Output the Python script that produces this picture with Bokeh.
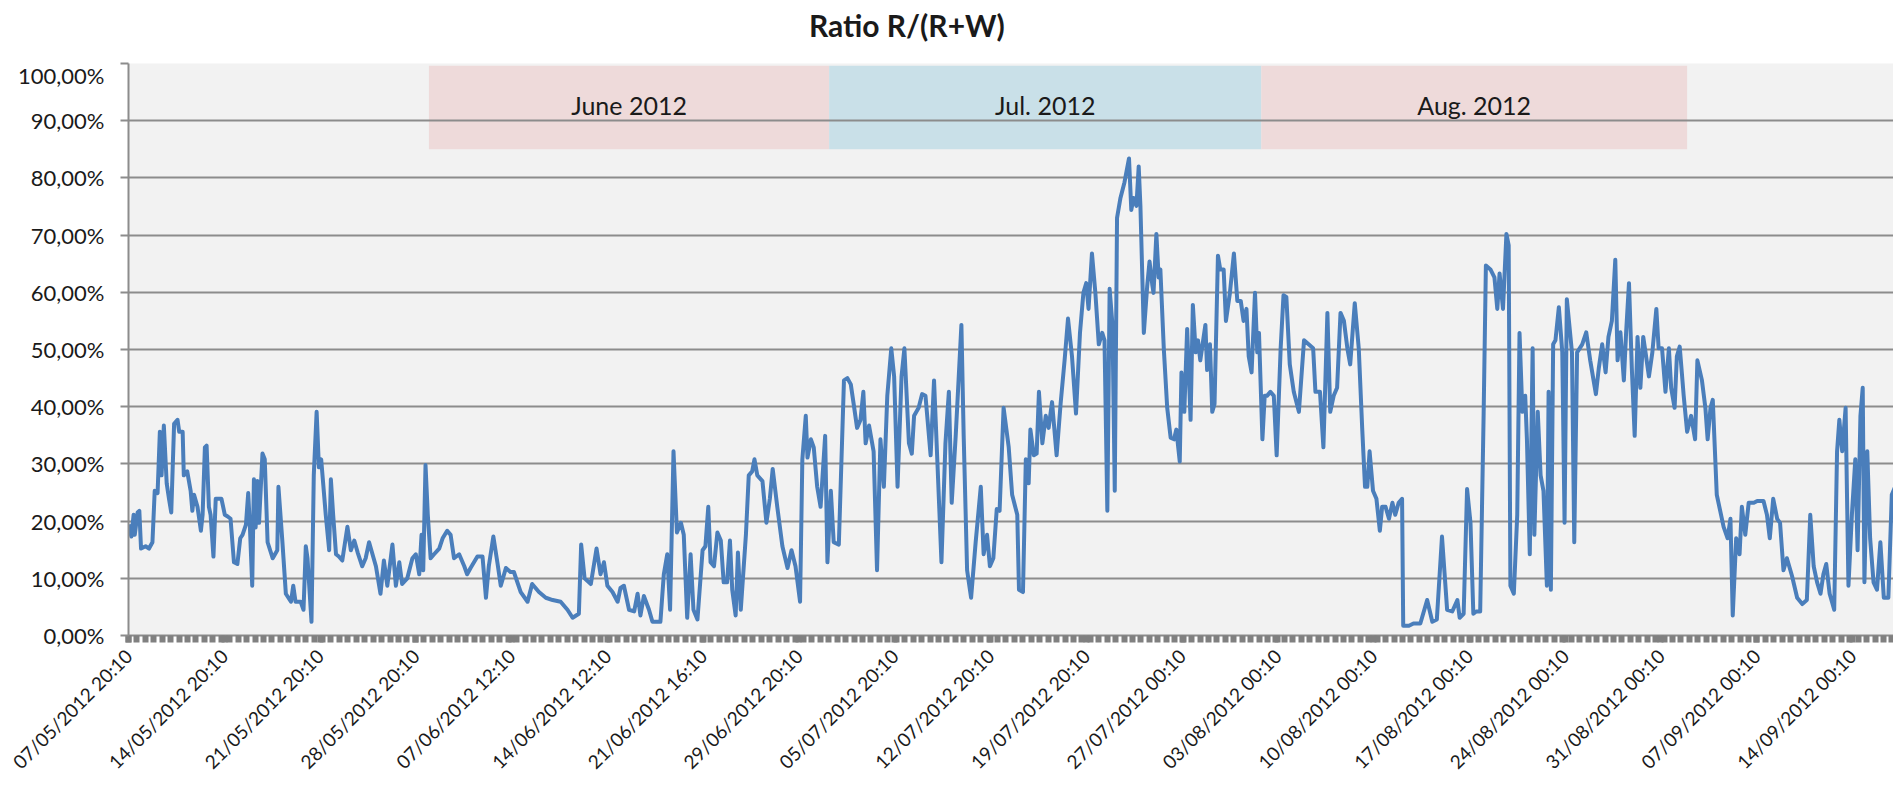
import math
import numpy as np
from bokeh.plotting import figure
from bokeh.layouts import column
from bokeh.models import FixedTicker
from bokeh.core.properties import value
from bokeh.embed import file_html
from bokeh.resources import INLINE

# ---------------- data ----------------
# x = sample (hour) index on the category axis, y = ratio R/(R+W) in %
hours_may = [
    0, 5, 9, 11, 16, 19, 22, 30, 36, 42,
    46, 51, 55, 58, 62, 67, 71, 75, 80, 86,
    89, 95, 97, 103, 109, 112, 115, 121, 127, 130,
    134, 137, 141, 144, 149, 153, 156, 163, 169, 174,
    179, 185, 191, 196, 200, 206, 210, 213, 217, 220,
    223, 226, 229, 235, 239, 244, 253, 261, 263, 270,
    276, 285, 289, 293, 302, 307, 311, 314, 321, 325,
    330, 334, 338, 346, 352, 355, 359, 364, 369, 375,
    384, 390, 396, 402, 410, 416, 422, 428, 434, 442,
    448, 454, 463, 469, 475, 480, 489, 498, 504, 510,
    514, 517, 521, 525, 530, 536, 545, 551, 559, 565,
    571, 580, 589, 594, 600, 612, 621, 627, 632, 640,
    647, 653]
ratio_may = [
    19.4, 17.3, 21.1, 17.6, 21.5, 21.8, 15.2, 15.6, 15.2, 16.3,
    25.3, 24.9, 35.6, 28.0, 36.7, 26.6, 23.9, 21.5, 37.0, 37.7,
    35.6, 35.6, 28.0, 28.7, 25.3, 21.8, 24.6, 22.5, 18.3, 21.1,
    32.9, 33.2, 22.5, 21.1, 13.8, 23.9, 23.9, 23.9, 21.1, 20.8,
    20.4, 12.8, 12.5, 17.0, 17.6, 19.4, 24.9, 18.9, 8.7, 27.3,
    18.9, 27.0, 19.7, 31.8, 30.8, 16.3, 13.5, 14.9, 26.0, 16.3,
    7.3, 5.9, 8.7, 5.9, 5.9, 4.5, 15.6, 13.5, 2.4, 28.0,
    39.1, 29.4, 30.8, 21.1, 14.9, 27.3, 21.1, 14.2, 13.8, 13.1,
    19.0, 14.9, 16.6, 14.5, 12.1, 13.5, 16.3, 14.2, 12.1, 7.3,
    13.1, 8.7, 15.9, 8.7, 12.8, 9.0, 10.0, 13.5, 14.2, 10.7,
    17.6, 11.4, 29.8, 21.1, 13.5, 14.2, 15.2, 17.0, 18.3, 17.6,
    13.5, 14.2, 12.1, 10.7, 11.8, 13.8, 13.8, 6.6, 12.1, 17.3,
    12.8, 8.7]

hours_jun = [
    662, 670, 676, 688, 700, 708, 720, 732, 744, 758,
    770, 779, 790, 794, 800, 811, 821, 828, 834, 840,
    849, 858, 863, 869, 878, 887, 893, 898, 904, 913,
    919, 933, 939, 945, 950, 956, 962, 969, 974, 980,
    986, 991, 998, 1007, 1012, 1017, 1021, 1027, 1033, 1039,
    1044, 1050, 1055, 1059, 1065, 1069, 1074, 1083, 1088, 1094,
    1098, 1103, 1112, 1119, 1125, 1130, 1138, 1147, 1156, 1163,
    1170, 1178, 1182, 1188, 1191, 1197, 1202, 1208, 1214, 1222,
    1226, 1232, 1237, 1246, 1255, 1261, 1267, 1272, 1278, 1284,
    1289, 1293, 1299, 1307, 1313, 1319, 1325, 1331, 1338, 1343,
    1349, 1356, 1361, 1369, 1374, 1378, 1386, 1392, 1398, 1407,
    1413, 1419, 1426, 1433, 1439, 1444, 1451, 1461, 1465, 1471,
    1478, 1486, 1495]
ratio_jun = [
    11.8, 11.1, 11.1, 7.6, 5.9, 9.0, 7.6, 6.6, 6.2, 5.9,
    4.5, 3.1, 3.8, 15.9, 10.0, 9.0, 15.2, 10.7, 12.8, 8.7,
    7.6, 5.9, 8.3, 8.7, 4.5, 4.2, 7.3, 3.5, 6.9, 4.5,
    2.4, 2.4, 10.7, 14.2, 4.5, 32.2, 18.0, 19.7, 17.6, 3.1,
    14.2, 4.5, 2.8, 14.9, 15.6, 22.5, 12.8, 12.1, 18.0, 16.6,
    9.3, 9.3, 16.6, 8.0, 3.5, 14.5, 4.5, 17.6, 28.0, 28.7,
    30.8, 28.0, 27.0, 19.7, 23.9, 29.1, 22.5, 15.6, 11.8, 14.9,
    12.1, 5.9, 30.8, 38.4, 31.1, 34.3, 32.9, 26.0, 22.5, 34.9,
    12.8, 25.3, 16.3, 15.9, 44.6, 45.0, 43.9, 40.5, 36.3, 37.7,
    42.6, 33.6, 36.7, 32.2, 11.4, 34.3, 26.0, 41.9, 50.2, 45.3,
    26.0, 45.3, 50.2, 33.6, 31.8, 38.4, 39.8, 42.2, 41.9, 31.5,
    44.6, 30.1, 12.8, 33.6, 42.6, 23.2, 34.9, 54.3, 34.9, 11.4,
    6.6, 16.3, 26.0]

hours_jul = [
    1500, 1506, 1511, 1517, 1523, 1528, 1535, 1544, 1550, 1559,
    1562, 1569, 1574, 1579, 1582, 1588, 1593, 1597, 1603, 1609,
    1614, 1620, 1628, 1635, 1642, 1648, 1655, 1662, 1669, 1675,
    1680, 1684, 1690, 1696, 1702, 1708, 1712, 1717, 1721, 1726,
    1730, 1734, 1740, 1747, 1755, 1759, 1763, 1768, 1772, 1775,
    1781, 1787, 1791, 1796, 1798, 1803, 1807, 1810, 1816, 1822,
    1828, 1834, 1838, 1844, 1847, 1852, 1857, 1863, 1867, 1872,
    1876, 1880, 1889, 1892, 1897, 1901, 1905, 1911, 1915, 1921,
    1925, 1932, 1939, 1945, 1951, 1956, 1961, 1965, 1970, 1976,
    1980, 1983, 1989, 1993, 1997, 2003, 2009, 2014, 2021, 2026,
    2031, 2037, 2044, 2053, 2062, 2070, 2078, 2082, 2090, 2096,
    2103, 2108, 2114, 2120, 2126, 2132, 2138, 2143, 2151, 2158,
    2164, 2169, 2173, 2177, 2183, 2189, 2195, 2199, 2205, 2211,
    2217, 2222, 2228, 2234, 2236, 2246, 2254, 2266]
ratio_jul = [
    14.2, 17.6, 12.1, 13.5, 22.1, 21.8, 39.8, 32.9, 24.6, 21.1,
    8.0, 7.6, 30.8, 26.6, 36.0, 31.5, 31.8, 42.6, 33.6, 38.4,
    36.3, 40.8, 31.5, 40.5, 48.1, 55.4, 48.8, 38.8, 52.9, 59.9,
    61.6, 57.1, 66.8, 59.9, 50.9, 52.9, 51.6, 21.8, 60.6, 54.3,
    25.3, 73.0, 76.5, 79.2, 83.4, 74.4, 76.5, 75.1, 82.0, 75.1,
    52.9, 61.2, 65.4, 61.2, 59.9, 70.2, 62.6, 64.0, 50.2, 39.8,
    34.6, 34.3, 36.0, 30.4, 46.0, 39.1, 53.6, 37.7, 57.8, 49.5,
    51.6, 48.1, 54.3, 46.4, 50.9, 39.1, 40.5, 66.4, 64.0, 64.0,
    55.0, 59.9, 66.8, 58.5, 58.5, 55.0, 57.1, 48.8, 46.0, 59.9,
    49.5, 52.9, 34.3, 41.9, 41.9, 42.6, 41.9, 31.5, 50.2, 59.5,
    59.2, 47.4, 42.6, 39.1, 51.6, 50.9, 50.2, 42.6, 42.6, 32.9,
    56.4, 39.1, 41.9, 43.3, 56.4, 55.0, 50.2, 47.4, 58.1, 50.2,
    36.3, 26.0, 26.0, 32.2, 25.3, 23.9, 18.3, 22.5, 22.5, 20.4,
    23.2, 21.1, 23.2, 23.9, 1.7, 1.7, 2.1, 2.1]

hours_aug = [
    2278, 2287, 2295, 2304, 2313, 2322, 2331, 2335, 2342, 2348,
    2354, 2359, 2364, 2371, 2377, 2381, 2389, 2396, 2401, 2405,
    2411, 2417, 2421, 2424, 2430, 2436, 2440, 2445, 2450, 2453,
    2458, 2463, 2466, 2472, 2477, 2482, 2488, 2491, 2495, 2499,
    2503, 2509, 2515, 2519, 2523, 2532, 2536, 2541, 2550, 2557,
    2564, 2574, 2579, 2585, 2591, 2596, 2602, 2608, 2612, 2617,
    2623, 2627, 2632, 2637, 2642, 2647, 2652, 2657, 2661, 2667,
    2673, 2680, 2684, 2690, 2696, 2702, 2706, 2712, 2716, 2721,
    2728, 2734, 2741, 2748, 2752, 2760, 2766, 2770, 2775, 2779,
    2786, 2798, 2805, 2810, 2814, 2820, 2826, 2830, 2836, 2842,
    2851, 2857, 2862, 2868, 2874, 2879, 2885, 2892, 2897, 2903,
    2909, 2918, 2927, 2936, 2944, 2950, 2956, 2962, 2968, 2973,
    2978, 2984, 2992, 2997, 3001, 3006, 3012, 3017, 3023, 3029,
    3033, 3038, 3042, 3045, 3050, 3055, 3061, 3067, 3073, 3079,
    3087, 3093, 3099]
ratio_aug = [
    6.2, 2.4, 2.8, 17.3, 4.5, 4.2, 6.2, 3.1, 3.8, 25.6,
    19.7, 3.8, 4.2, 4.2, 38.4, 64.7, 64.0, 62.6, 57.1, 63.3,
    57.1, 70.2, 68.2, 8.7, 7.3, 21.1, 52.9, 39.1, 41.9, 34.3,
    14.2, 50.2, 17.6, 39.1, 28.0, 25.3, 8.7, 42.6, 8.0, 50.9,
    51.6, 57.4, 49.5, 19.7, 58.8, 49.5, 16.3, 49.5, 50.9, 53.0,
    48.1, 42.2, 46.7, 50.9, 46.0, 52.2, 55.0, 65.7, 48.1, 53.0,
    44.6, 53.0, 61.6, 46.7, 34.9, 52.2, 43.3, 52.2, 49.5, 45.3,
    49.5, 57.1, 50.2, 50.2, 42.6, 50.2, 43.3, 39.8, 48.8, 50.5,
    41.9, 35.6, 38.4, 34.3, 48.1, 44.6, 39.8, 34.3, 39.8, 41.2,
    24.6, 19.0, 17.0, 20.4, 3.5, 17.0, 14.2, 22.5, 17.6, 23.2,
    23.2, 23.5, 23.5, 23.5, 21.1, 17.0, 23.9, 20.4, 19.7, 11.4,
    13.5, 10.4, 6.6, 5.5, 6.2, 21.1, 12.1, 9.3, 7.3, 10.7,
    12.5, 7.3, 4.5, 32.2, 37.7, 32.2, 39.8, 8.7, 21.1, 30.8,
    14.9, 38.4, 43.3, 9.3, 32.2, 17.0, 9.3, 8.0, 16.3, 6.6,
    6.6, 24.6, 26.0]

tick_labels = [
    "07/05/2012 20:10", "14/05/2012 20:10", "21/05/2012 20:10", "28/05/2012 20:10",
    "07/06/2012 12:10", "14/06/2012 12:10", "21/06/2012 16:10", "29/06/2012 20:10",
    "05/07/2012 20:10", "12/07/2012 20:10", "19/07/2012 20:10", "27/07/2012 00:10",
    "03/08/2012 00:10", "10/08/2012 00:10", "17/08/2012 00:10", "24/08/2012 00:10",
    "31/08/2012 00:10", "07/09/2012 00:10", "14/09/2012 00:10"]
tick_hours = [0, 168, 336, 504, 672, 840, 1008, 1176, 1344, 1512,
              1680, 1848, 2016, 2184, 2352, 2520, 2688, 2856, 3024]

y_ticks = [0, 10, 20, 30, 40, 50, 60, 70, 80, 90, 100]

month_names = ["June 2012", "Jul. 2012", "Aug. 2012"]
month_start = [527, 1229, 1987]
month_end = [1229, 1987, 2734]
month_colors = ["#eedada", "#c9e0e8", "#eedada"]

title_text = "Ratio R/(R+W)"

hours = hours_may + hours_jun + hours_jul + hours_aug
ratio = ratio_may + ratio_jun + ratio_jul + ratio_aug

# ---------------- figures ----------------
FONT = "Lato"
TXT = "#1a1a1a"
GRID = "#8c8c8c"
W = 1893

# title strip (frame aligned with the main plot frame)
t = figure(width=W, height=61, x_range=(0, 1), y_range=(0, 1),
           x_axis_type=None, y_axis_type=None,
           output_backend="svg", toolbar_location=None,
           min_border_left=128, min_border_right=0,
           min_border_top=0, min_border_bottom=0)
t.outline_line_color = None
t.background_fill_color = "white"
t.border_fill_color = "white"
t.grid.visible = False
t.text(x=[0.441], y=[0.6], text=[title_text], text_align="center",
       text_baseline="alphabetic", text_font=value(FONT),
       text_font_style="bold", text_font_size="30px", text_color=TXT)

# main chart
p = figure(width=W, height=726, x_range=(0, 3096), y_range=(0, 100),
           output_backend="svg", toolbar_location=None,
           min_border_left=128, min_border_right=0,
           min_border_top=2, min_border_bottom=152)
p.background_fill_color = "#f2f2f2"
p.border_fill_color = "white"
p.outline_line_color = None

# month bands (below the grid)
p.quad(left=month_start, right=month_end, bottom=85, top=99.6,
       fill_color=month_colors, line_color=None, level="image")
p.text(x=[(a + b) / 2 for a, b in zip(month_start, month_end)], y=[92.7] * 3,
       text=month_names, text_align="center", text_baseline="middle",
       text_font=value(FONT), text_font_size="25px", text_color=TXT)

p.line(hours, ratio, line_color="#4a7ebb", line_width=4, line_join="round")

# grid
p.xgrid.visible = False
p.ygrid.ticker = FixedTicker(ticks=y_ticks)
p.ygrid.grid_line_color = GRID
p.ygrid.grid_line_width = 2

# y axis
p.yaxis.ticker = FixedTicker(ticks=y_ticks)
p.yaxis.major_label_overrides = {t_: f"{t_},00%" for t_ in y_ticks}
p.yaxis.axis_line_color = GRID
p.yaxis.axis_line_width = 2
p.yaxis.major_tick_line_color = GRID
p.yaxis.major_tick_line_width = 2
p.yaxis.major_tick_out = 8
p.yaxis.major_tick_in = 0
p.yaxis.minor_tick_line_color = None
p.yaxis.major_label_standoff = 16
p.yaxis.major_label_text_font = FONT
p.yaxis.major_label_text_font_size = "22px"
p.yaxis.major_label_text_color = TXT

# x axis
p.xaxis.ticker = FixedTicker(ticks=tick_hours,
                             minor_ticks=list(np.arange(0, 3100, 14.8)))
p.xaxis.major_label_overrides = {h: s for h, s in zip(tick_hours, tick_labels)}
p.xaxis.major_label_orientation = math.pi / 4
p.xaxis.axis_line_color = GRID
p.xaxis.axis_line_width = 2
p.xaxis.major_tick_line_color = "#808080"
p.xaxis.major_tick_line_width = 6
p.xaxis.major_tick_out = 7
p.xaxis.major_tick_in = 0
p.xaxis.minor_tick_line_color = "#808080"
p.xaxis.minor_tick_line_width = 6
p.xaxis.minor_tick_out = 7
p.xaxis.minor_tick_in = 0
p.xaxis.major_label_standoff = 10
p.xaxis.major_label_text_font = FONT
p.xaxis.major_label_text_font_size = "19px"
p.xaxis.major_label_text_color = TXT

layout = column(t, p, spacing=0)
open("out.html", "w").write(file_html(layout, INLINE))
